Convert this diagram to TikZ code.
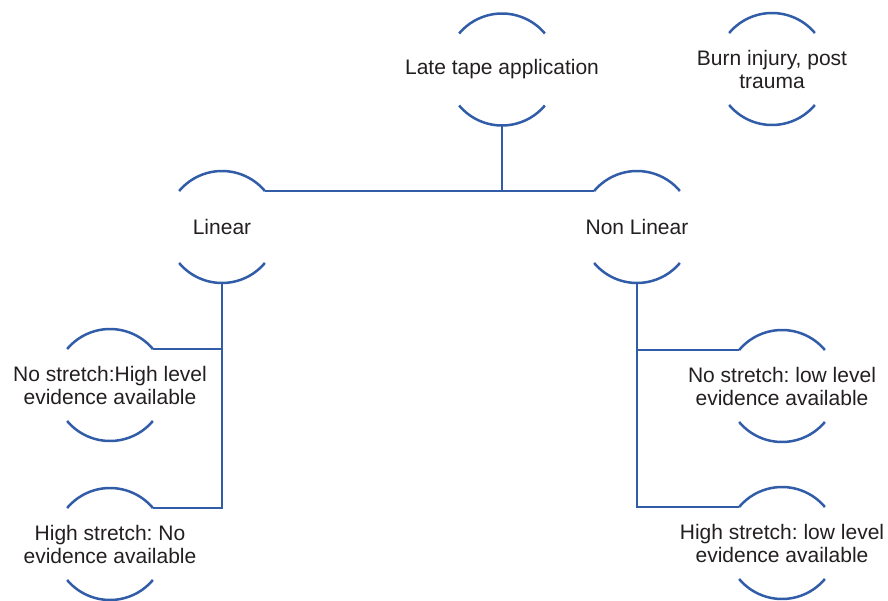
\documentclass[tikz,border=0pt]{standalone}
\usepackage{fontspec}
\setmainfont{Liberation Sans}
\frenchspacing
\definecolor{arcblue}{RGB}{48,92,168}
\definecolor{txt}{RGB}{35,31,32}
\newcommand\ringarcs[1]{%
  \draw[arcline] ([shift={(40:56)}]#1.center) coordinate (#1-tr) arc[start angle=40,end angle=140,radius=56] coordinate (#1-tl);
  \draw[arcline] ([shift={(220:56)}]#1.center) coordinate (#1-bl) arc[start angle=220,end angle=320,radius=56] coordinate (#1-br);
  \coordinate (#1-b) at ([shift={(270:56)}]#1.center);
}
\begin{document}
\begin{tikzpicture}[x=1pt,y=1pt,
  lbl/.style={font=\fontsize{21}{23}\selectfont, align=center, text=txt, inner sep=0pt},
  arcline/.style={draw=arcblue, line width=2.5pt},
  conn/.style={draw=arcblue, line width=2.5pt}]
\useasboundingbox (0,0) rectangle (888,-601);
\node[lbl] (late) at (502,-69.5) {Late tape application};
\node[lbl] (burn) at (772,-69) {Burn injury, post\\trauma};
\node[lbl] (lin) at (222,-227) {Linear};
\node[lbl] (nl) at (637,-227) {Non Linear};
\node[lbl] (ns1) at (110,-385) {No stretch:High level\\evidence available};
\node[lbl] (hs1) at (110,-544) {High stretch: No\\evidence available};
\node[lbl] (ns2) at (782,-386) {No stretch: low level\\evidence available};
\node[lbl] (hs2) at (782,-543) {High stretch: low level\\evidence available};
\ringarcs{late}
\ringarcs{burn}
\ringarcs{lin}
\ringarcs{nl}
\ringarcs{ns1}
\ringarcs{hs1}
\ringarcs{ns2}
\ringarcs{hs2}
\draw[conn] (lin-tr) -- (nl-tl);
\draw[conn] (late-b) -- (late-b |- lin-tr);
\draw[conn] (lin-b) |- (hs1-tr);
\draw[conn] (ns1-tr) -- (ns1-tr -| lin-b);
\draw[conn] (nl-b) |- (hs2-tl);
\draw[conn] (ns2-tl) -- (ns2-tl -| nl-b);
\end{tikzpicture}
\end{document}
